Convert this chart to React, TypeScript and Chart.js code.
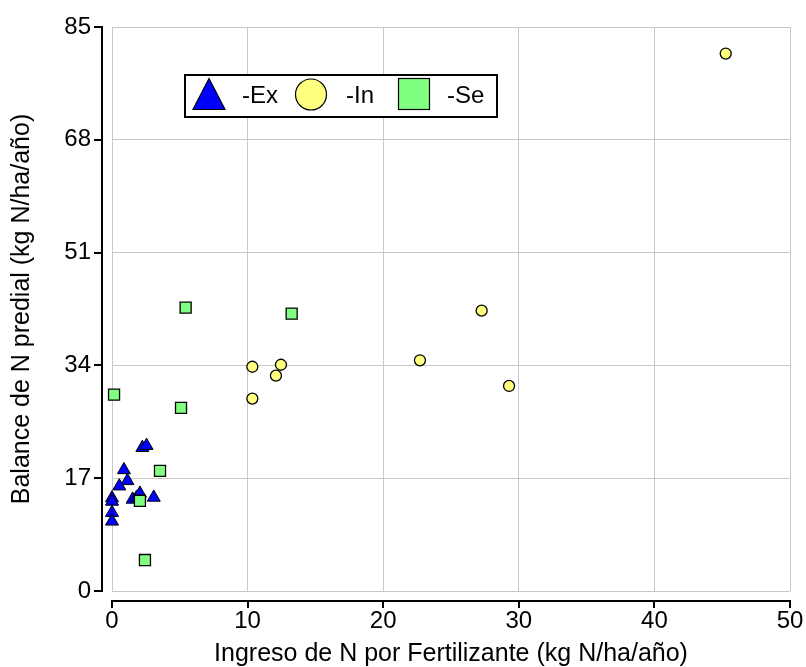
import React, { useEffect, useRef } from 'react';
import { Chart, registerables } from 'chart.js';

Chart.register(...registerables);

// ---- data ----
const exX = [2.24, 2.55, 0.88, 1.14, 0.54, 0.0, 0.0, 0.0, 0.0, 1.52, 1.82, 2.06, 3.08];
const exY = [21.6, 21.9, 18.25, 16.6, 15.8, 14.0, 13.5, 11.8, 10.5, 13.8, 14.1, 14.7, 14.1];

const inX = [45.26, 27.26, 22.71, 29.28, 10.35, 12.46, 12.09, 10.35];
const inY = [81.0, 42.25, 34.77, 30.9, 33.8, 34.1, 32.45, 29.0];

const seX = [5.43, 13.25, 5.09, 0.15, 3.54, 2.06, 2.43];
const seY = [42.7, 41.8, 27.6, 29.6, 18.1, 13.6, 4.67];

const seriesLabels = ['-Ex', '-In', '-Se'];
const xTicks = [0, 10, 20, 30, 40, 50];
const yTicks = [0, 17, 34, 51, 68, 85];
const xTitle = 'Ingreso de N por Fertilizante (kg N/ha/año)';
const yTitle = 'Balance de N predial (kg N/ha/año)';

const FONT = '"Liberation Sans", Arial, Helvetica, sans-serif';
const BLUE = '#0000ff';
const YELLOW = '#ffff80';
const GREEN = '#80ff80';

const toPoints = (xs: number[], ys: number[]) => xs.map((x, i) => ({ x, y: ys[i] }));

const offsetAxesPlugin = {
  id: 'offsetAxes',
  afterDraw(chart: any) {
    const { ctx, chartArea: a, scales } = chart;
    const xs = scales.x;
    const ys = scales.y;
    ctx.save();
    ctx.fillStyle = '#000';
    const ax = a.left - 10;
    const yTop = Math.round(ys.getPixelForValue(yTicks[yTicks.length - 1]));
    const yBot = Math.round(ys.getPixelForValue(yTicks[0]));
    ctx.fillRect(ax - 1, yTop - 1, 2, yBot - yTop + 2);
    for (const v of yTicks) {
      const py = Math.round(ys.getPixelForValue(v));
      ctx.fillRect(ax - 8, py - 1, 8, 2);
    }
    const ay = a.bottom + 10;
    const x0 = Math.round(xs.getPixelForValue(xTicks[0]));
    const x1 = Math.round(xs.getPixelForValue(xTicks[xTicks.length - 1]));
    ctx.fillRect(x0 - 1, ay - 1, x1 - x0 + 2, 2);
    for (const v of xTicks) {
      const px = Math.round(xs.getPixelForValue(v));
      ctx.fillRect(px - 1, ay, 2, 7);
    }
    ctx.restore();
  },
};

const legendPlugin = {
  id: 'boxLegend',
  afterDraw(chart: any) {
    const { ctx } = chart;
    const ds = chart.data.datasets;
    ctx.save();
    ctx.fillStyle = '#fff';
    ctx.fillRect(185, 75, 312, 42);
    ctx.lineWidth = 2;
    ctx.strokeStyle = '#000';
    ctx.strokeRect(185, 75, 312, 42);

    ctx.lineWidth = 1.2;
    ctx.beginPath();
    ctx.moveTo(209, 78.5);
    ctx.lineTo(225, 109.5);
    ctx.lineTo(193, 109.5);
    ctx.closePath();
    ctx.fillStyle = ds[0].backgroundColor;
    ctx.fill();
    ctx.stroke();

    ctx.beginPath();
    ctx.arc(311, 94.5, 15.5, 0, Math.PI * 2);
    ctx.fillStyle = ds[1].backgroundColor;
    ctx.fill();
    ctx.stroke();

    ctx.fillStyle = ds[2].backgroundColor;
    ctx.fillRect(398.5, 78.5, 31, 31);
    ctx.strokeRect(398.5, 78.5, 31, 31);

    ctx.fillStyle = '#000';
    ctx.font = `24px ${FONT}`;
    ctx.textBaseline = 'alphabetic';
    ctx.textAlign = 'left';
    ctx.fillText(ds[0].label, 242, 103);
    ctx.fillText(ds[1].label, 346, 103);
    ctx.fillText(ds[2].label, 447, 103);
    ctx.restore();
  },
};

export default function App() {
  const ref = useRef<HTMLCanvasElement | null>(null);

  useEffect(() => {
    if (!ref.current) return;
    const chart = new Chart(ref.current, {
      type: 'scatter',
      data: {
        datasets: [
          {
            label: seriesLabels[0],
            data: toPoints(exX, exY),
            pointStyle: 'triangle',
            pointRadius: 7.5,
            backgroundColor: BLUE,
            borderColor: '#000',
            borderWidth: 1,
            order: 3,
            clip: false,
          },
          {
            label: seriesLabels[1],
            data: toPoints(inX, inY),
            pointStyle: 'circle',
            pointRadius: 5.5,
            backgroundColor: YELLOW,
            borderColor: '#000',
            borderWidth: 1.3,
            order: 2,
            clip: false,
          },
          {
            label: seriesLabels[2],
            data: toPoints(seX, seY),
            pointStyle: 'rect',
            pointRadius: 7.8,
            backgroundColor: GREEN,
            borderColor: '#000',
            borderWidth: 1.3,
            order: 1,
            clip: false,
          },
        ],
      },
      options: {
        responsive: false,
        animation: false,
        events: [],
        layout: { padding: { top: 27, right: 16, left: 0, bottom: 0 }, autoPadding: false },
        plugins: {
          legend: { display: false },
          tooltip: { enabled: false },
        },
        scales: {
          x: {
            type: 'linear',
            min: 0,
            max: 50,
            afterBuildTicks: (s: any) => { s.ticks = xTicks.map((v) => ({ value: v })); },
            ticks: { color: '#000', font: { family: FONT, size: 24 }, padding: 16 },
            grid: { color: '#c8c8c8', lineWidth: 1, drawTicks: false },
            border: { display: false },
            title: {
              display: true,
              text: xTitle,
              color: '#000',
              font: { family: FONT, size: 25, lineHeight: 1 },
              padding: { top: 0, bottom: 0.5 },
            },
            afterFit: (s: any) => {
              s.height = 76;
              s.paddingLeft = 0; s.paddingRight = 0; s.paddingTop = 0; s.paddingBottom = 0;
            },
          },
          y: {
            type: 'linear',
            min: 0,
            max: 85,
            afterBuildTicks: (s: any) => { s.ticks = yTicks.map((v) => ({ value: v })); },
            ticks: { color: '#000', font: { family: FONT, size: 24 }, padding: 21 },
            grid: { color: '#c8c8c8', lineWidth: 1, drawTicks: false },
            border: { display: false },
            title: {
              display: true,
              text: yTitle,
              color: '#000',
              font: { family: FONT, size: 25, lineHeight: 1 },
              padding: { top: 9.5, bottom: 0 },
            },
            afterFit: (s: any) => {
              s.width = 112;
              s.paddingLeft = 0; s.paddingRight = 0; s.paddingTop = 0; s.paddingBottom = 0;
            },
          },
        },
      },
      plugins: [offsetAxesPlugin, legendPlugin],
    } as any);
    return () => chart.destroy();
  }, []);

  return (
    <div style={{ position: 'absolute', left: 0, top: 0, width: 806, height: 667, background: '#fff' }}>
      <canvas ref={ref} width={806} height={667} style={{ display: 'block' }} />
    </div>
  );
}
